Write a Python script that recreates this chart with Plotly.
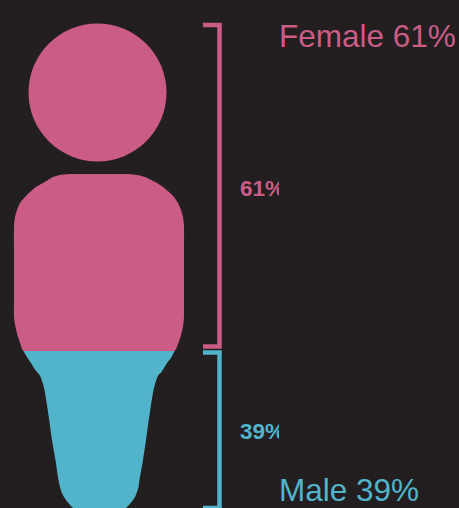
import plotly.graph_objects as go

# Categories and shares
categories = ["Female", "Male"]
shares = [61, 39]
colors = ["#CB5C86", "#52B4CB"]
background = "#231F20"

# Silhouette (canvas units, y grows downwards)
head_centre = [97.5, 92.5]
head_diameter = 138
female_y = [174, 175, 177, 180, 183, 187, 192, 197, 203, 210, 217, 226, 250, 280, 300, 317, 327, 337, 344, 351]
female_left = [70, 60, 53, 48, 43, 36, 30, 25, 20, 17, 15, 14, 14, 14, 14, 14, 15.5, 18, 20.5, 23.5]
female_right = [127, 137, 145, 151, 157, 163, 169, 174, 178, 181, 183, 184, 184, 184, 184, 184, 183, 180.5, 178, 174.5]
male_y = [351, 358, 363, 368, 372, 375, 378, 384, 390, 405, 422, 440, 460, 480, 487, 492, 497, 502, 507, 512]
male_left = [23.5, 27.5, 31, 34, 37, 39.5, 41, 43, 44.5, 47, 49.5, 52, 55.5, 58.5, 60, 61.5, 64, 67.5, 72, 78]
male_right = [174.5, 171, 167, 164, 161.5, 158.5, 157, 155, 153.5, 151, 148.5, 146, 143, 139.5, 138.5, 137, 135, 131.5, 127, 121]

# Brackets
female_bracket_x = [203, 219.5, 219.5, 203]
female_bracket_y = [25, 25, 346.5, 346.5]
male_bracket_x = [203, 219.5, 219.5, 203]
male_bracket_y = [352.5, 352.5, 508, 508]

# Labels
short_label_y = [190, 433]
long_label_y = [39.5, 493]
short_label_x = 240
long_label_x = 279
clip_edge = 279

W, H = 459, 508
fig = go.Figure()


def band(ys, left, right, color, name):
    fig.add_trace(go.Scatter(x=left + right[::-1], y=ys + ys[::-1], fill="toself",
                             fillcolor=color, mode="lines",
                             line=dict(width=0, shape="spline", smoothing=0.6),
                             name=name, hoverinfo="name"))


band(female_y, female_left, female_right, colors[0], categories[0])
band(male_y, male_left, male_right, colors[1], categories[1])
fig.add_trace(go.Scatter(x=[head_centre[0]], y=[head_centre[1]], mode="markers",
                         marker=dict(size=head_diameter, color=colors[0], line=dict(width=0)),
                         name=categories[0], hoverinfo="name"))

fig.add_trace(go.Scatter(x=female_bracket_x, y=female_bracket_y, mode="lines",
                         line=dict(color=colors[0], width=4.5), hoverinfo="skip"))
fig.add_trace(go.Scatter(x=male_bracket_x, y=male_bracket_y, mode="lines",
                         line=dict(color=colors[1], width=4.5), hoverinfo="skip"))

for i in range(2):
    # clipped percentage labels, on a narrower subplot
    fig.add_trace(go.Scatter(x=[short_label_x], y=[short_label_y[i]], mode="text",
                             text=[f"<b>{shares[i]}%</b>"], textposition="middle right",
                             textfont=dict(family="Liberation Sans", size=22.5, color=colors[i]),
                             xaxis="x2", yaxis="y2", cliponaxis=True, hoverinfo="skip"))
    fig.add_trace(go.Scatter(x=[long_label_x], y=[long_label_y[i]], mode="text",
                             text=[f"{categories[i]} {shares[i]}%"], textposition="middle right",
                             textfont=dict(family="Liberation Sans", size=31.5, color=colors[i]),
                             cliponaxis=False, hoverinfo="skip"))

hidden = dict(visible=False, showgrid=False, zeroline=False, fixedrange=True)
fig.update_layout(
    width=W, height=H, margin=dict(l=0, r=0, t=0, b=0), autosize=False,
    paper_bgcolor=background, plot_bgcolor="rgba(0,0,0,0)", showlegend=False,
    xaxis=dict(range=[0, W], domain=[0, 1], **hidden),
    yaxis=dict(range=[H, 0], domain=[0, 1], **hidden),
    xaxis2=dict(range=[0, clip_edge], domain=[0, clip_edge / W], anchor="y2", **hidden),
    yaxis2=dict(range=[H, 0], domain=[0, 1], anchor="x2", **hidden),
)
page_reset = ("document.body.style.margin='0';document.body.style.overflow='hidden';"
              f"document.body.style.background='{background}';")
fig.write_html("out.html", config=dict(displayModeBar=False), post_script=page_reset)
